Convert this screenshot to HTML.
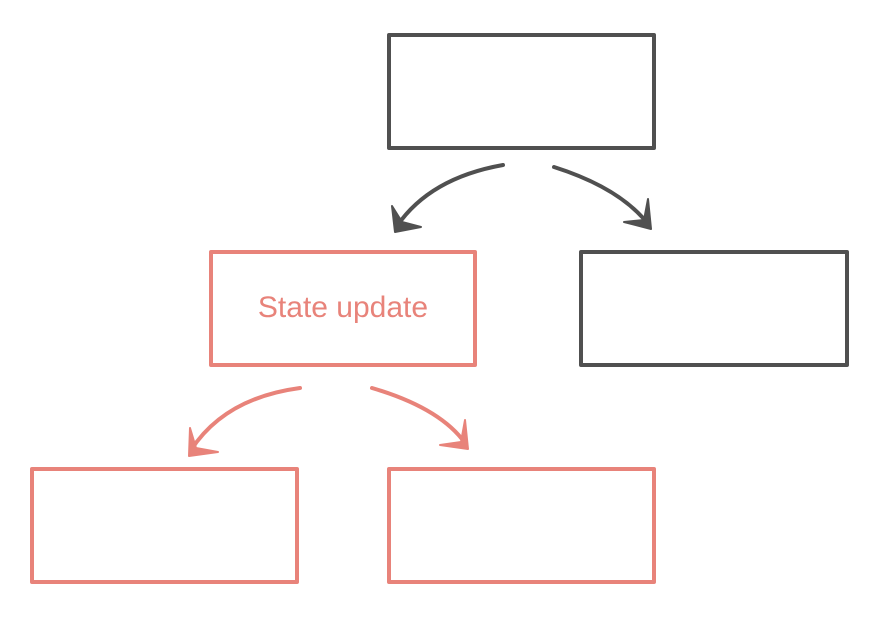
<!DOCTYPE html>
<html><head><style>
html,body{margin:0;padding:0;background:#fff;width:884px;height:628px;overflow:hidden}
svg{display:block}
</style></head><body>
<svg width="884" height="628" viewBox="0 0 884 628" xmlns="http://www.w3.org/2000/svg">
<g stroke-linecap="round" stroke-linejoin="round">
<g stroke="#505050" stroke-width="4" fill="none">
<rect x="389" y="35" width="265" height="113"/>
<rect x="581" y="252" width="266" height="113"/>
<path d="M503 165 Q430 178 397 226"/>
<path d="M554 167 Q620 188 648 224"/>
</g>
<g fill="#505050" stroke="#505050" stroke-width="2">
<polygon points="392,206 395,232 421,227 402,222"/>
<polygon points="648,199 651,229 624,222 644,220"/>
</g>
<g stroke="#e8837a" stroke-width="4" fill="none">
<rect x="211" y="252" width="264" height="113"/>
<rect x="32" y="469" width="265" height="113"/>
<rect x="389" y="469" width="265" height="113"/>
<path d="M300 388 Q225 398 191 450"/>
<path d="M372 388 Q440 408 465 443"/>
</g>
<g fill="#e8837a" stroke="#e8837a" stroke-width="2">
<polygon points="190,428 189,456 218,452 196,448"/>
<polygon points="465,420 468,449 440,445 461,442"/>
</g>
</g>
<text x="343" y="317" text-anchor="middle" font-family="'Liberation Sans', sans-serif" font-size="30" fill="#e8837a">State update</text>
</svg>
</body></html>
